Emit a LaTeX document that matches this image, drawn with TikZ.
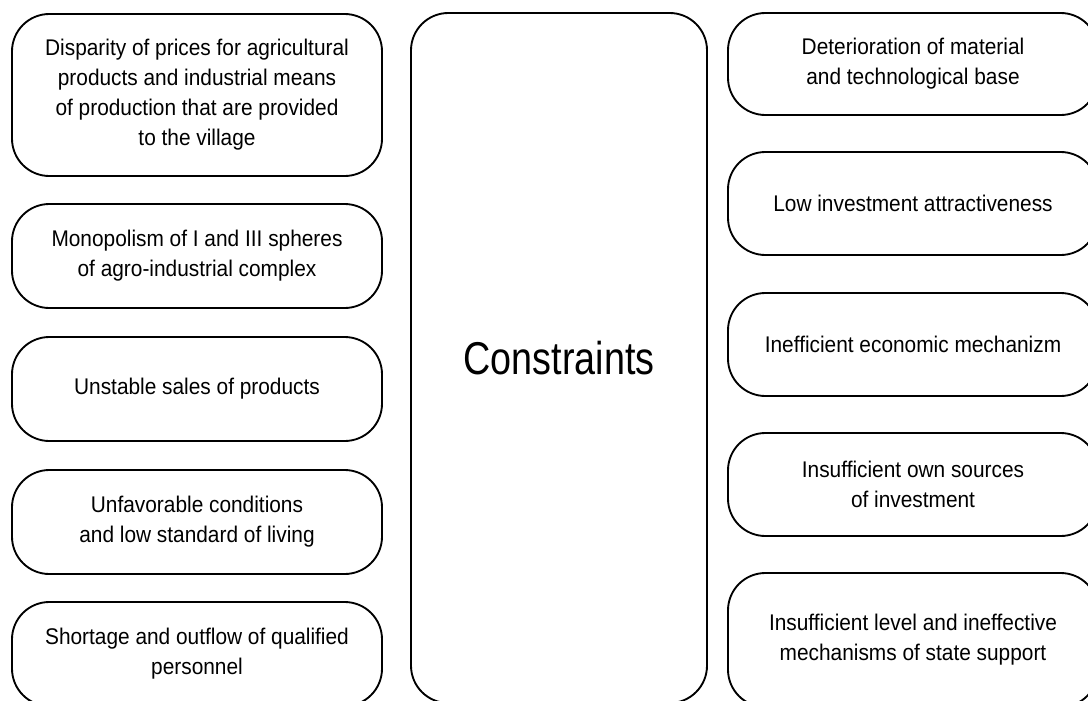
\documentclass[tikz,border=0pt]{standalone}
\usepackage{fontspec}
\setmainfont{Liberation Sans}
\newfontfamily\boxfont[FakeStretch=0.92]{Liberation Sans}
\newfontfamily\bigfont[FakeStretch=0.82]{Liberation Sans}
\begin{document}
\begin{tikzpicture}[x=0.75pt,y=-0.75pt,
  cbox/.style={draw, line width=1.4pt, rounded corners=28pt, align=center,
    font=\fontsize{17}{22.5}\selectfont\boxfont, inner sep=0pt, minimum width=277.5pt},
  mainbox/.style={draw, line width=1.4pt, rounded corners=28pt, align=center,
    font=\fontsize{34.5}{40}\selectfont\bigfont, inner sep=0pt,
    minimum width=222pt, minimum height=517.5pt}]
\useasboundingbox (0,0) rectangle (1088,700);
\clip (0,0) rectangle (1088,700);
% left column
\node[cbox, minimum height=121.5pt] (l1) at (197,95) {Disparity of prices for agricultural\\products and industrial means\\of production that are provided\\to the village};
\node[cbox, minimum height=78pt] (l2) at (197,256) {Monopolism of I and III spheres\\of agro-industrial complex};
\node[cbox, minimum height=78pt] (l3) at (197,389) {Unstable sales of products};
\node[cbox, minimum height=78pt] (l4) at (197,522) {Unfavorable conditions\\and low standard of living};
\node[cbox, minimum height=78pt] (l5) at (197,654) {Shortage and outflow of qualified\\personnel};
% centre
\node[mainbox] (c) at (559,358) {Constraints};
% right column
\node[cbox, minimum height=76.5pt] (r1) at (913,64) {Deterioration of material\\and technological base};
\node[cbox, minimum height=77.25pt] (r2) at (913,203.5) {Low investment attractiveness};
\node[cbox, minimum height=77.25pt] (r3) at (913,344.5) {Inefficient economic mechanizm};
\node[cbox, minimum height=77.25pt] (r4) at (913,484.5) {Insufficient own sources\\of investment};
\node[cbox, minimum height=100.5pt] (r5) at (913,640) {Insufficient level and ineffective\\mechanisms of state support};
\end{tikzpicture}
\end{document}
